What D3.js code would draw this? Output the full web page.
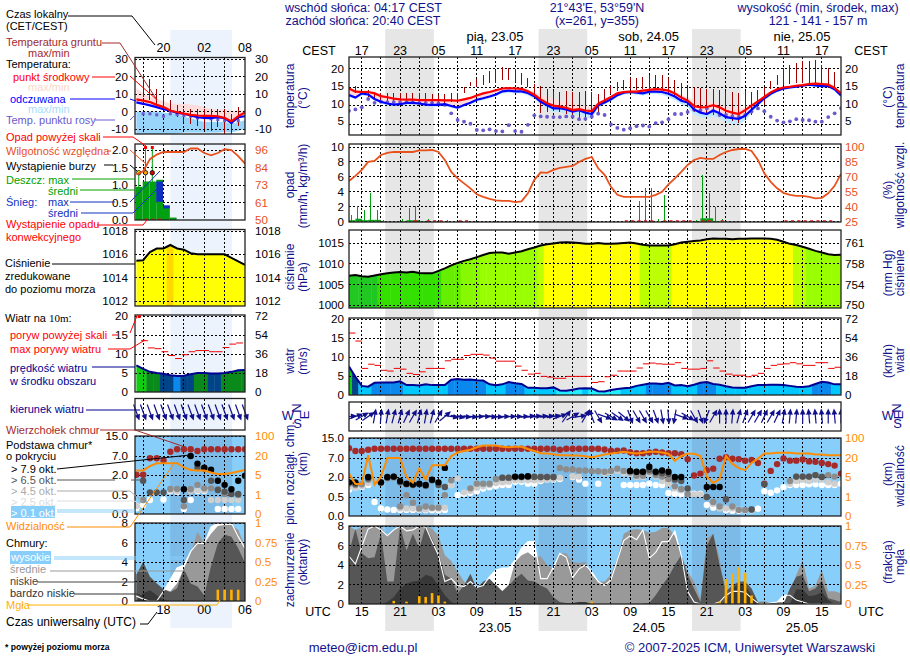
<!DOCTYPE html>
<html>
<head>
<meta charset="utf-8">
<title>meteogram</title>
<script src="https://cdnjs.cloudflare.com/ajax/libs/d3/7.8.5/d3.min.js"></script>
<style>
  body { margin: 0; background: #fff; }
  svg { display: block; }
  text { font-family: "Liberation Sans", Arial, sans-serif; font-size: 11.6px; }
</style>
</head>
<body>
<div id="chart"></div>
<script>
const na = null;

// hourly series, index 0 = 13 UTC 22.05, index 77 = 18 UTC 25.05
const tempMid = [14.4,13.5,13.4,13.4,13,12.2,11.9,11.5,11.3,11.2, 11.2,11.1,11.1,11.1,11.1,11,11,10.9,11.3,11.7, 12.4,13,13.4,13.9,14.4,14.5,14.4,14.3,13.6,12.6, 11.3,10.2,9.5,9.2,8.9,8.2,8.5,8.1,7.9,10, 11,12,13,13.4,13.5,13.5,13.8,14,14.2,14.1, 13.8,13,11.8,10.9,9.4,9,9.1,9.6,9,8, 7.5,7.1,8.2,9.5,10.7,12,13.3,14.2,14.7,14.9, 15.2,15.4,15.7,15.8,15.7,15.5,14.6,13];
const tempHi = [14.8,14,13.9,13.9,13.5,12.8,12.4,12,11.8,11.7, 11.6,11.5,11.5,11.5,11.5,11.4,11.4,11.3,11.6,12, 12.7,13.3,13.7,14.2,14.7,14.9,14.8,14.7,14.2,13.4, 12.5,12,11.5,11,10.5,10,9.8,9.4,9.1,10.6, 11.4,12.4,13.4,13.8,13.9,13.9,14.2,14.4,14.6,14.5, 14.2,13.5,12.6,11.9,11,10.6,10.4,10.5,10,9.2, 8.8,8.4,9,10,11.2,12.4,13.7,14.6,15,15.3, 15.6,15.8,16.1,16.2,16.1,15.9,15.1,13.5];
const chill = [12.5,11.8,13,12.7,11.4,10.6,10.1,9.8,9.9,10.3, 10.3,10.1,9.8,9.7,9.7,9.9,9.4,8.9,9.7,10.3, 11.2,11.6,12.1,12.7,13.6,13.8,13.6,13.6,13.1,12.2, 10.6,9.6,8.7,8.8,8.4,7.8,8.2,7.5,7.1,9.6, 10.4,11.3,12.5,13.2,13.4,13.2,13,13.5,13.5,13.4, 12.9,12.1,10.9,10.4,8.4,7.5,7.1,8.1,7.3,6.2, 5.9,5.7,6.6,8.3,10,11.6,12.9,13.8,14.4,14.7, 14.9,15.2,15.5,15.3,15.1,15.1,14.2,12.4];
const chillLo = [12,11.3,12.4,12.1,10.9,10.1,9.6,9.3,9.4,9.8, 9.8,9.6,9.3,9.2,9.2,9.4,8.9,8.4,9.2,9.8, 10.7,11.1,11.6,12.2,13,13.2,13,13,12.4,11.4, 9.9,8.7,7.7,7.7,7.2,6.6,6.8,6.1,5.7,8.8, 9.8,10.8,12,12.7,12.9,12.6,12.4,12.8,12.8,12.6, 12,11.1,9.9,9,7,6.2,5.8,6.6,5.8,4.8, 4.4,4.1,5.2,7.4,9.3,11,12.4,13.3,14,14.3, 14.6,14.9,15.1,14.8,14.7,14.7,13.6,11.8];
const dewPoint = [8,8.4,9,11.4,10.3,10.6,10.5,10.5,10.5,10.5, 10.4,10.3,10.3,10.3,10.2,9.7,7.3,5.4,4.9,4.3, 2.5,2.4,2.7,2.2,2.1,3.9,2.2,2,4,6.7, 6.4,6.3,6.2,6.2,6.4,6.3,5.6,5.7,6.3,7.2, 6.8,4.1,3.1,2.6,3,3.6,3.8,3.5,4.5,4.7, 5.6,7.1,7.1,7.7,8.3,8.1,8.7,8,6.8,6.8, 6.5,6.3,6.8,7.8,8.7,7.9,6.3,5.2,4.7,5, 5.6,5.4,5.3,4.9,4.9,6.2,7.3,8.8];
const groundMax = [na,15,13.8,14,13.5,13,13,13,13,13, 13,13,13,12.8,12.5,12.8,13,13.2,14.7,16.2, 17.2,18.3,19.3,19.8,20.5,20.4,20,18.8,17.3,15.6, 15,14.3,13.8,13.3,13.8,13.3,13.5,13.8,13.3,12.8, 14.2,15,16.2,16.8,17.3,17.5,17.6,18.3,18.3,18.2, 17.3,16.8,15.9,14.7,14.7,14.5,14.2,14.2,14,13.8, 13.5,13.2,13.8,13.3,14,14.7,16.7,18.2,20.2,21.1, 21.6,22.3,22.4,22.6,21.1,20.2,19.2,na];
const groundMin = [na,13,12.5,11.9,11.1,10.6,10.3,10.2,10.2,10.3, 10.3,10.6,10.3,9.9,10.2,10.2,10.6,11.1,13,15, 14.7,15.4,15.9,16,16.8,16.8,16.3,15.4,14.7,12.5, 7.5,7.7,8,7.7,7.2,6.3,5.5,5,6.3,7.6, 10.2,12.7,13.8,14,14.2,14,14.2,14.4,14.2,14, 13,12.1,10.7,9.2,7.8,7.3,7.1,6.8,6.3,5.8, 5.2,4.6,5.4,6.8,8.3,9.7,14.4,15.4,15.4,15.7, 16,16,15.7,15.4,14.9,14.5,14.3,na];
const rainMax = [.9,2.1,1.6,3.8,1.5,.2,0,0,.4,1.8, 2.1,0,.3,0,0,.2,0,0,0,0, 0,0,0,0,0,0,0,0,0,0, 0,0,0,0,0,0,0,0,0,0, 0,0,0,0,0,2.8,4.5,4.5,.4,3.6, 0,0,0,0,.2,6.3,3.8,2,.4,0, 0,0,0,0,0,0,0,0,0,0, 0,0,0,0,0,0,0,0];
const rainMean = [.2,.4,.2,.25,.25,.05,0,0,.05,.2, .2,.05,0,0,0,0,0,0,0,0, 0,0,0,0,0,0,0,0,0,0, 0,0,0,0,0,0,0,0,0,0, 0,0,0,0,0,0,0,0,0,0, 0,0,0,0,.05,.45,.45,.1,.05,0, 0,0,0,0,0,0,0,0,0,0, 0,0,0,0,0,0,0,0];
const convectiveHours = [10,12,13,14,17,18,43,44,45,46,47,49,50,51,52,53,55,56,58,68,69,70,71,72,73,74,75];
const humidity = [65.9,71,77,85,86,92,94,95,95,95, 95,96.7,96.7,97,95,87,75,68.5,63.5,58.5, 52.5,50,48,46.5,46,46,44.7,45.4,53.5,67, 74.5,74,77,79,80,81,85,88,90,78.6, 72,60,52,50,50,50,50,50,52,55, 62.5,68.5,75,82,87,89,88,88,92,95, 97,98,98,96,87,73.5,65,58.5,54,52, 51,51,50,48.5,49,53.5,61,73];
const pressure = [1007.1,1007.3,1007,1006.9,1007.2,1007.5,1007.7,1007.9,1008,1007.9, 1008.1,1007.8,1007.7,1007.7,1008.3,1008.9,1009.6,1010.2,1010.7,1011.1, 1011.6,1012.1,1012.6,1012.7,1012.7,1012.4,1012.7,1013,1013.5,1013.9, 1014.4,1014.7,1014.9,1015.1,1015.2,1015.1,1015,1014.8,1014.8,1015, 1014.8,1014.8,1014.9,1015,1015.1,1014.9,1014.6,1014.4,1014.4,1014.4, 1014.4,1014.7,1015.1,1015.3,1015.5,1015.6,1015.9,1016.1,1016,1016, 1015.9,1016,1016,1016.1,1016.1,1016.1,1016,1015.8,1015.3,1014.8, 1014.5,1014.1,1013.6,1013.1,1012.7,1012.3,1012.1,1012.2];
const gust = [16.3,14.2,7,8.1,7.8,6.5,6.3,7,6.8,5.7, 5.4,6.1,7,7,7,9,9.4,9.4,10.4,10.7, 10.7,10.5,9.7,8.9,8.9,8.9,7.6,6.5,5.5,5.7, 4.9,4.7,4.4,4.4,4.9,4.9,4.9,4.9,3.3,3.5, 4.8,5.2,6.3,6.3,6.3,7.1,8.2,8.4,8.2,8.1, 8.1,8.5,7,6.8,6.8,7,9,7.1,6.3,5.5, 5.2,5.2,4.8,5.2,5.7,7,7.8,8.1,8.2,8.5, 8.2,7.8,7.8,8.5,8.5,7,7.3,na];
const windSpeed = [7.5,4.8,2.4,2.2,3.2,3.3,3.3,3.3,3.6,2.6, 2.6,2.5,2.8,2.6,2.6,2.6,4,4.2,4,4.1, 3.9,3.8,2.8,2.6,2.8,3.4,3.1,2.9,1.9,1.9, 1.8,1.8,2,1.2,1.1,1.4,1.7,1.8,1.7,1, .9,1.3,1.6,1.8,1.9,2.4,2.7,3,3,2.9, 3.2,2.5,2.6,2.3,2.7,3.2,3.4,2.9,2.7,2.3, 2,1.9,1.9,2.3,2.6,2.6,2.7,2.7,2.6,2.4, 2.2,2.1,2.3,2.9,3.5,3.3,2.8,2.8];
const windFrom = [265,250,240,235,190,185,190,195,195,205, 210,195,190,195,210,230,280,280,275,275, 270,270,275,275,270,270,270,270,265,265, 265,265,260,250,215,240,260,210,160,330, 290,300,305,310,340,330,330,330,340,350, 355,10,290,300,330,340,20,210,180,180, 185,195,200,210,210,205,210,205,190,185, 185,180,175,175,175,180,175,180];
const cloudTop = [10.9,9.8,9.8,10.3,10.7,10.7,10.7,10.7,10.7,10.7, 10.7,10.7,10.7,10.7,10.7,10.7,10.7,10.7,10.7,10.7, 10.7,10.7,10.7,10.7,10.7,10.7,10.7,10.7,10.7,10.7, 10.7,10.7,10.7,10.3,10.7,10.7,10.7,10.7,10.7,10.7, 10.4,9.9,9.9,10,9.3,8.9,8.9,9.2,9.5,9.2, 8.9,8.9,8.5,6.7,2.4,2.9,3.8,4.2,6.8,7.3, 6.8,6.7,6.3,6.5,5.7,1.5,3.6,5.4,6.9,6.3, 6.3,6.6,6.1,6,5.7,5.4,5,2.9];
const baseBlack = [1.6,1.6,na,2,na,1.6,2,2.1,1.7,1.5, 1.45,1.5,1.4,1.8,1.6,4.4,na,na,na,na, na,na,na,na,na,na,2.1,2.1,2.2,na, na,na,na,na,na,na,na,na,na,na, na,na,na,na,3.6,3.4,3.4,4.7,3.4,3.7, 3.4,2,2,na,na,na,1.25,1.25,1.25,na, na,na,na,na,na,na,na,na,na,na, na,na,na,na,na,na,na,na];
const baseDark = [1.6,1.5,na,1.9,na,1.6,1.95,2.05,1.6,1.45, 1.4,1.45,1.35,1.75,1.4,1.25,na,na,na,na, na,na,na,na,1.95,1.95,2,2,2.1,2.05, 2,2,2,na,na,na,na,na,na,na, na,na,na,na,3.5,3.3,3.3,3.9,3.2,3, 2.8,1.8,1.7,1.14,na,na,.5,na,na,.44, na,na,na,.17,na,1.45,na,na,na,na, 2.1,2.1,2.1,2.5,2,na,na,na];
const baseMedium = [1.5,1.4,1.45,1.8,na,1.55,1.9,1.95,.25,.63, .35,.2,.25,.22,.22,.63,1.75,na,na,1.15, 1.5,1.5,1.5,1.85,1.95,1.95,2,2,2,2, 2,2,2,4.4,4,4,3.7,3.7,3.5,3.5, 3.4,3.6,4.2,3.6,3.2,2.3,2.3,3.4,2.5,2.1, 1.85,1.3,1.1,.7,na,na,.5,.37,.25,.43, .25,.16,.16,.17,na,na,na,na,na,1.7, 2.1,2.1,2.1,2.5,2.1,2.5,2.1,na];
const baseLight = [1.25,1.2,1.3,1.55,na,na,na,na,.2,.2, .2,.17,.17,.2,.2,.22,1.4,1.9,.85,.95, 1.2,1.3,1.4,1.55,1.6,1.65,1.75,1.75,1.75,1.75, 1.8,1.8,1.85,1.95,na,2.2,2.1,na,na,na, 3,3.3,3.6,3,2.8,2,2,2.8,2.1,1.7, 1.5,1.15,1,.8,.7,.7,na,.32,.2,.2, .2,.17,.15,.15,na,na,na,na,na,1.5, 1.7,1.8,1.7,1.8,1.8,1.6,1.5,na];
const baseWhite = [1.05,1.2,1.25,1.4,.37,.2,.17,.16,.16,.16, .16,.16,.15,.15,.15,.16,1.4,.65,.75,.82, .93,1.14,1.24,1.33,1.4,1.4,1.64,1.64,1.5,1.5, 1.7,1.8,1.8,1.85,na,2,1.8,1.5,na,1.5, na,na,na,1.4,1.4,1.4,1.4,1.5,1.4,1.4, .8,.75,.7,.7,.75,.75,.29,.22,.22,.15, .14,.14,.15,.15,.19,.93,.82,1,1.24,1.4, 1.4,1.4,1.45,1.45,1.4,1.4,1.4,1.5];
const visibility = [7.8,3.6,3.6,31,3.5,5,20,20,20,5, 3.9,11.7,4.5,14.3,14.3,14.3,28,42,48,53, 63,70,70,70,65,63,65,65,56,48, 39,38,35,31,31,30,30,27,23,28, 34,38,41,45,41,38,41,45,45,42, 37,17.7,28,37,37,28,5.5,3.8,4.6,28, 15.3,12,10.4,16.1,19.5,38,38,41,41,41, 38,38,38,34,34,31,31,31];
const cloudHigh = [4.9,4.1,5.9,7.7,8,7.6,7,7.6,8,7.5, 7.6,8,7.9,6.4,5,2.3,2.6,1.9,1.8,2.3, 1.7,1.9,2.8,3.5,3.7,3.7,4.5,5.7,6.4,6.4, 2.6,2.6,3.8,5.2,4.8,2.7,3.6,4,3.3,2.3, 1.9,2.5,4.5,6.5,7,6.6,7.6,4.7,5.3,6.4, 6.4,7.5,5,1.3,.2,0,0,0,.2,.9, 1.3,1.3,1.2,.6,.1,0,.1,.2,.9,.9, .4,.2,0,0,0,0,0,0];
const cloudMid = [8,7.6,7.9,8,8,7.9,7,7.6,8,7.9, 7.9,8,8,7.7,7,5,4.4,3.3,2.3,1.6, 1.6,1.6,2.3,2,1.3,2,4.3,5,5.3,4.8, 4.9,4,3.5,5.2,5.2,4.3,4.2,4.3,3,2.3, 2.3,3,4.7,7.2,7.6,7.7,7.6,7.3,7.4,7.8, 7.8,7,5,3.3,2.3,.6,6.7,7.2,4.7,.6, .9,1.3,2.3,1.3,.2,.3,.1,.2,.2,.9, 3,4.5,1.6,1.9,3.5,1.3,1.3,1.1];
const cloudLow = [5.3,7.7,5.2,4.7,4.8,7.2,2.3,2.3,8,5.5, 7.2,5.7,8,6.7,5.2,3,2.6,1.1,1.9,3.1, 1.6,2.3,2.6,1.9,1.3,1.9,2.6,3.1,2.4,2.3, 1.9,1.6,.7,.2,.1,0,0,0,0,0, 0,0,0,0,0,0,0,.1,.9,1.9, 2.8,4,5,3,1.6,.2,6,7.2,4,1.3, 1.9,2.3,2.3,1.6,.2,.1,.1,0,0,1.6, 2.8,3,1.3,1.6,2.4,.6,.4,.2];
const cloudVeryLow = [0,0,0,0,0,0,.2,.7,1.6,2.1, 2.3,2.4,3,2.8,1.9,.9,.2,0,0,0, 0,0,0,0,0,0,0,0,0,0, 0,0,0,0,0,.1,.2,.2,0,0, 0,0,0,0,0,0,0,0,0,0, 0,0,0,0,0,0,0,0,0,.2, 1.6,2.1,1.9,.9,.1,0,0,0,0,0, 1.5,1.5,.8,.9,1.2,.4,0,0];
const fog = [0,0,0,0,0,0,0,.04,0,.03, 0,.1,.09,.14,.11,.03,0,0,0,0, 0,0,0,0,0,0,0,0,0,0, 0,0,0,0,0,0,0,0,.03,0, 0,0,0,0,0,0,0,0,0,0, 0,0,0,0,0,0,0,0,.03,.32, .39,.47,.4,.11,0,0,0,0,0,0, 0,0,0,0,0,0,0,0];

// legend sample series, index 0 = 14 UTC, index 16 = 06 UTC next day
const legTempMid = [6.9,6.2,5.4,3.8,2.5,.6,-.4,-1.2,-1.9,-2.3,-2.5,-2.5,-2.7,-3.7,-5.6,-2.7,-.6];
const legTempHi = [13.5,10.5,8.5,7,6,4.5,4.5,4.5,4,3.5,2.7,1.5,1,1.5,.5,.5,1];
const legChill = [5.2,4.4,3.5,2.5,1.3,.4,-.8,-1.3,-2.3,-3.3,-3.7,-3.8,-3.3,-3.8,-6.5,-3.3,-2.7];
const legChillHi = [0,0,0,0,-.5,-1,-1.5,-3,-4,-5,-6,-6,-6,-6,-7,-6,-5];
const legChillLo = [-13,-13,-13,-13,-13,-13,-12.5,-12,-12,-12,-12,-12,-12,-11.5,-12,-11,-10];
const legDew = [na,-1.3,-1.3,-1.9,-2.7,-1.3,-1.7,-2.3,-2.7,-3.7,-3.3,-4.2,-4.6,-5.2,-6.2,-5.2,na];
const legGroundMax = [na,20.8,18.8,13,10.2,6.3,3.5,1.5,1.5,1.5,1.5,1.5,1.5,1.5,-1.3,2.5,na];
const legGroundMin = [na,8.3,6.3,4.4,1.5,-1.3,-3.3,-6.2,-7,-8,-10,-11,-9,-12.9,-12.9,-8,na];
const legRain = [.95,1.1,1.1,1.15,.4,.07,0,0,0,0,0,0,0,0,0,0,0];
const legRainMax = [1.35,2.05,2.05,0,0,0,0,0,0,0,0,0,0,0,0,0,0];
const legSnowHi = [0,0,0,1.1,.42,0,0,0,0,0,0,0,0,0,0,0,0];
const legSnowLo = [0,0,0,.52,.33,0,0,0,0,0,0,0,0,0,0,0,0];
const legAboveScale = [1,2];
const legStormColors = ["#ffe800","#ffa500","#e00000"];
const legConvective = [1,2,3];
const legHumidity = [80,82,90,93,94.7,94.7,94.7,94.7,97,97,94,92.5,94,96.5,96,92,87];
const legPressure = [1015.46,1015.5,1016.2,1016.5,1016.5,1016.8,1016.5,1016.4,1016.1,1016,1016,1016,1016,1016,1015.7,1015.4,1015.1];
const legWindSpeed = [7,6.1,5.3,5,4.8,4.4,4.2,4.3,4.7,5,5,4.9,4.9,5,5.3,5.7,5.8];
const legGust = [na,13.5,11.6,11.4,10.6,9.6,8.8,9.8,10.6,10.9,10.9,10.6,10.6,11.7,12.6,12.9,na];
const legWindFrom = [340,340,340,340,340,340,340,340,340,340,340,340,340,340,340,340,340];
const legCloudTop = [2.05,2.05,6.4,6.4,5.9,8.7,9.7,9.7,9.7,9,9.7,9.7,9.7,9.7,9.7,9.7,9.7];
const legBlack = [na,na,na,na,na,na,na,.93,7,5,3.9,3.4,1.57,1.26,.93,1.57,1.95];
const legDark = [na,1.57,.7,.7,.7,na,na,.37,na,3.9,3.7,1.57,.88,.75,.58,.58,na];
const legMedium = [na,.37,na,na,na,.95,.95,.2,.93,1.26,1,1,.93,.58,.58,.5,na];
const legLight = [.21,.37,na,na,na,.85,.8,na,.8,.85,.85,.37,.37,.37,.37,.37,na];
const legWhite = [.15,.24,.37,na,.38,.8,.75,.13,.37,.8,.8,na,.13,.13,.13,.13,na];
const legVisibility = [8.6,8.6,12,14.3,14.3,14.3,14.3,11,9,8.6,8.6,7,5.8,5.8,6.6,7.8,9];
const legHigh = [.5,.2,0,0,1,2.2,3.4,3.7,5.1,5.9,5.9,7.6,8,8,8,6.6,5.4];
const legMid = [2.7,4,2.5,1.8,1.2,1,1.8,3.3,4.9,7.1,5.9,6.9,7.7,7.8,7.8,7.3,5.6];
const legLow = [2.7,4,2.5,1.8,1.2,.9,1.3,3.3,1.8,1.5,.6,3.6,5.9,6.8,6.6,5.4,3.9];
const legVeryLow = [0,.8,1.1,.6,.1,0,0,0,0,0,0,0,0,0,0,0,0];
const legFog = [0,0,0,0,0,0,0,0,0,0,0,0,.145,.145,.145,.145,0];

// tick labels
const localHourLabels = ["17","23","05","11","17","23","05","11","17","23","05","11","17"];
const utcHourLabels = ["15","21","03","09","15","21","03","09","15","21","03","09","15"];
const dayTopLabels = ["pią, 23.05","sob, 24.05","nie, 25.05"];
const dayBottomLabels = ["23.05","24.05","25.05"];
const dayLabelHours = [22.85,46.9,70.9];
const nightSpans = [[5.67,13.28],[29.67,37.28],[53.67,61.28]];
const tempTicks = [5,10,15,20];
const rainTicks = [0,2,4,6,8,10];
const humidityTicks = [25,40,55,70,85,100];
const pressureTicks = [1000,1005,1010,1015];
const mmHgLabels = ["750","754","758","761"];
const windTicks = [0,5,10,15,20];
const kmhLabels = ["0","18","36","54","72"];
const heightTicks = [0,.5,2,7,15];
const heightLabels = ["0.0","0.5","2.0","7.0","15.0"];
const visLabels = ["0","1","5","20","100"];
const octaTicks = [0,2,4,6,8];
const fogLabels = ["0","0.25","0.5","0.75","1"];
const legTempTicks = [-10,0,10,20,30];
const legRainTicks = [0,.5,1,1.5,2];
const legRainLabels = ["0.0","0.5","1.0","1.5","2.0"];
const legHumLabels = ["50","61","73","84","96"];
const legPressTicks = [1012,1014,1016,1018];

const NAVY = "#10108c";
const SKY = "#87cefa";
const SKY_NIGHT = "rgba(60,70,130,0.14)";
const RH_COLOR = "#e8501c";
const VIS_COLOR = "#ff8c00";
const WIDTH = 910;
const HEIGHT = 660;

const svg = d3.select("#chart").append("svg").attr("width", WIDTH).attr("height", HEIGHT);

function label(g, str, x, y, opts = {}) {
  const t = g.append("text")
    .attr("x", x)
    .attr("y", y)
    .attr("fill", opts.fill || "#000")
    .attr("text-anchor", opts.anchor || "start")
    .text(str);
  if (opts.size) t.style("font-size", opts.size + "px");
  if (opts.weight) t.style("font-weight", opts.weight);
  if (opts.rotate) t.attr("transform", `rotate(${opts.rotate},${x},${y})`);
  return t;
}

// x helpers: scale index -> pixel
const xMainScale = d3.scaleLinear().domain([0, 77]).range([349, 841]);
const xLegScale = d3.scaleLinear().domain([13.8, 30]).range([135, 245]);
const xMain = (i) => xMainScale(i);
const xLeg = (j) => xLegScale(14 + j);
const mainGridX = d3.range(2, 77, 3);
const legGridX = [1, 4, 7, 10, 13];

// night bands sit under everything
svg.append("g").selectAll("rect").data(nightSpans).enter().append("rect")
  .attr("x", (d) => xMain(d[0]))
  .attr("width", (d) => xMain(d[1]) - xMain(d[0]))
  .attr("y", 29).attr("height", 602).attr("fill", "#e6e6e6");
svg.append("rect")
  .attr("x", xLeg(5)).attr("width", xLeg(14.1) - xLeg(5))
  .attr("y", 30).attr("height", 598).attr("fill", "#ecf3fd");

let clipCounter = 0;
function addPanel(box) {
  const id = "clip" + clipCounter++;
  svg.append("clipPath").attr("id", id).append("rect")
    .attr("x", box.xs(box.from)).attr("y", box.y0)
    .attr("width", box.xs(box.to) - box.xs(box.from)).attr("height", box.y1 - box.y0);
  const g = svg.append("g").attr("clip-path", `url(#${id})`);
  return { g, box };
}

function skyBackground(p) {
  const { box } = p;
  p.g.append("rect").attr("x", box.xs(box.from)).attr("y", box.y0)
    .attr("width", box.xs(box.to) - box.xs(box.from)).attr("height", box.y1 - box.y0)
    .attr("fill", SKY);
  p.g.selectAll(".night").data(box.night).enter().append("rect")
    .attr("x", (d) => box.xs(d[0]))
    .attr("width", (d) => box.xs(d[1]) - box.xs(d[0]))
    .attr("y", box.y0).attr("height", box.y1 - box.y0)
    .attr("fill", SKY_NIGHT);
}

function addGrid(p, gridY) {
  const { box } = p;
  const grid = p.g.append("g").attr("stroke", "#000").attr("stroke-width", 1)
    .attr("stroke-dasharray", "2,2").attr("shape-rendering", "crispEdges");
  grid.selectAll(".v").data(box.gridX).enter().append("line")
    .attr("x1", (d) => box.xs(d)).attr("x2", (d) => box.xs(d))
    .attr("y1", box.y0).attr("y2", box.y1);
  grid.selectAll(".h").data(gridY).enter().append("line")
    .attr("x1", box.xs(box.from)).attr("x2", box.xs(box.to))
    .attr("y1", (d) => d).attr("y2", (d) => d);
}

function addBorder(box) {
  svg.append("rect")
    .attr("x", box.xs(box.from)).attr("y", box.y0)
    .attr("width", box.xs(box.to) - box.xs(box.from)).attr("height", box.y1 - box.y0)
    .attr("fill", "none").attr("stroke", "#222").attr("stroke-width", 1.3);
}

function addTicks(vals, yFn, labels, x, anchor, fill) {
  vals.forEach((v, k) => {
    label(svg, labels ? labels[k] : v, x, yFn(v) + 4, { anchor, fill });
  });
}

function seriesLine(xs, y, values) {
  return d3.line().defined((d) => d != null).x((d, i) => xs(i)).y((d) => y(d))(values);
}

function bandArea(xs, y, hi, lo) {
  return d3.area().x((d, i) => xs(i)).y0((d, i) => y(lo[i])).y1((d) => y(d))(hi);
}

function dots(g, xs, y, values, r, fill) {
  g.append("g").selectAll("circle")
    .data(values.map((v, i) => ({ v, i })).filter((d) => d.v != null))
    .enter().append("circle")
    .attr("cx", (d) => xs(d.i)).attr("cy", (d) => y(d.v))
    .attr("r", r).attr("fill", fill);
}

// fill colours stepping by value, drawn as strips clipped to the area under the line
function strips(p, values, colorOf, y) {
  const { box } = p;
  const id = "clip" + clipCounter++;
  svg.append("clipPath").attr("id", id).append("path")
    .attr("d", d3.area().x((d, i) => box.xs(i)).y0(box.y1).y1((d) => y(d))(values));
  const step = box.xs(1) - box.xs(0);
  p.g.append("g").attr("clip-path", `url(#${id})`).selectAll("rect")
    .data(values).enter().append("rect")
    .attr("x", (d, i) => box.xs(i) - step / 2 - 0.2)
    .attr("width", step + 0.4)
    .attr("y", box.y0).attr("height", box.y1 - box.y0)
    .attr("fill", (d) => colorOf(d));
}

function drawTemp(box, gridY, y, d, isLegend) {
  const p = addPanel(box);
  p.g.append("path").attr("d", bandArea(box.xs, y, d.hi, d.chill)).attr("fill", "#ffdcdc");
  if (isLegend) {
    p.g.append("path").attr("d", bandArea(box.xs, y, d.chillHi, d.chillLo)).attr("fill", "#87cefa").attr("opacity", 0.85);
  } else {
    p.g.append("path").attr("d", bandArea(box.xs, y, d.chill, d.chillLo)).attr("fill", "#bfe8ff");
  }
  addGrid(p, gridY);
  p.g.append("g").selectAll("line")
    .data(d.gMax.map((v, i) => ({ v, i, lo: d.gMin[i] })).filter((e) => e.v != null))
    .enter().append("line")
    .attr("x1", (e) => box.xs(e.i)).attr("x2", (e) => box.xs(e.i))
    .attr("y1", (e) => y(e.v)).attr("y2", (e) => y(e.lo))
    .attr("stroke", "#a00000").attr("stroke-width", 1)
    .attr("shape-rendering", "crispEdges");
  if (isLegend) {
    p.g.append("g").selectAll("rect")
      .data(d.dew.map((v, i) => ({ v, i })).filter((e) => e.v != null))
      .enter().append("rect")
      .attr("x", (e) => box.xs(e.i) - 1.5).attr("y", (e) => y(e.v) - 1.5)
      .attr("width", 3).attr("height", 3).attr("fill", "#6a5acd");
  } else {
    dots(p.g, box.xs, y, d.dew, 1.9, "#6a5acd");
  }
  p.g.append("path").attr("d", seriesLine(box.xs, y, d.chill))
    .attr("fill", "none").attr("stroke", "#0000ff").attr("stroke-width", 2.2);
  p.g.append("path").attr("d", seriesLine(box.xs, y, d.mid))
    .attr("fill", "none").attr("stroke", "#ff0000").attr("stroke-width", 2.2);
  addBorder(box);
}

function drawPressure(box, gridY, y, values, colorOf) {
  const p = addPanel(box);
  strips(p, values, colorOf, y);
  addGrid(p, gridY);
  p.g.append("path").attr("d", seriesLine(box.xs, y, values))
    .attr("fill", "none").attr("stroke", "#000").attr("stroke-width", 2);
  addBorder(box);
}

function drawWind(box, gridY, y, speed, gustVals, gustShift, colorOf) {
  const p = addPanel(box);
  strips(p, speed, colorOf, y);
  addGrid(p, gridY);
  p.g.append("g").selectAll("line")
    .data(gustVals.map((v, i) => ({ v, i })).filter((e) => e.v != null))
    .enter().append("line")
    .attr("x1", (e) => box.xs(e.i + gustShift)).attr("x2", (e) => box.xs(e.i + gustShift + 1))
    .attr("y1", (e) => y(e.v)).attr("y2", (e) => y(e.v))
    .attr("stroke", "#f00000").attr("stroke-width", 1);
  p.g.append("path").attr("d", seriesLine(box.xs, y, speed))
    .attr("fill", "none").attr("stroke", "#000090").attr("stroke-width", 2);
  addBorder(box);
}

function drawWindDir(box, yc, dir, len, overflow) {
  const p = addPanel(box);
  addGrid(p, []);
  const g = overflow ? svg.append("g") : p.g;
  const arrow = g.append("g").selectAll("g").data(dir).enter().append("g")
    .attr("transform", (d, i) => `translate(${box.xs(i)},${yc}) rotate(${d + 180})`);
  arrow.append("line")
    .attr("y1", len / 2).attr("y2", -len / 2 + 3)
    .attr("stroke", "#10108c").attr("stroke-width", 1.2);
  arrow.append("path")
    .attr("d", `M0,${-len / 2 - 1} L-2.8,${-len / 2 + 5} L2.8,${-len / 2 + 5} Z`)
    .attr("fill", "#10108c");
  addBorder(box);
}

function drawHeights(box, gridY, y, vis, d) {
  const p = addPanel(box);
  skyBackground(p);
  addGrid(p, gridY);
  dots(p.g, box.xs, y.km, d.white, 3.2, "#ffffff");
  dots(p.g, box.xs, y.km, d.light, 3.2, "#cfcfcf");
  dots(p.g, box.xs, y.km, d.medium, 3.2, "#8c8c8c");
  dots(p.g, box.xs, y.km, d.top, 3.2, "#a52a2a");
  dots(p.g, box.xs, y.km, d.dark, 3.2, "#555555");
  dots(p.g, box.xs, y.km, d.black, 3.2, "#000000");
  p.g.append("path").attr("d", seriesLine(box.xs, y.vis, vis))
    .attr("fill", "none").attr("stroke", VIS_COLOR).attr("stroke-width", 2);
  addBorder(box);
}

function drawClouds(box, gridY, y, yFog, d, fogWidth) {
  const p = addPanel(box);
  skyBackground(p);
  const zero = d.high.map(() => 0);
  p.g.append("path").attr("d", bandArea(box.xs, y, d.high, zero)).attr("fill", "#ffffff");
  p.g.append("path").attr("d", bandArea(box.xs, y, d.mid, zero)).attr("fill", "#999999");
  p.g.append("path").attr("d", bandArea(box.xs, y, d.low, zero)).attr("fill", "#565656");
  p.g.append("path").attr("d", bandArea(box.xs, y, d.veryLow, zero)).attr("fill", "#383838");
  p.g.append("path").attr("d", seriesLine(box.xs, y, d.high))
    .attr("fill", "none").attr("stroke", "#fff").attr("stroke-width", 1.1);
  addGrid(p, gridY);
  p.g.append("g").selectAll("rect")
    .data(d.fog.map((v, i) => ({ v, i })).filter((e) => e.v > 0))
    .enter().append("rect")
    .attr("x", (e) => box.xs(e.i) - fogWidth / 2)
    .attr("width", fogWidth)
    .attr("y", (e) => yFog(e.v))
    .attr("height", (e) => box.y1 - yFog(e.v))
    .attr("fill", "#ffb000");
  addBorder(box);
}

/* ---------------------- main column ---------------------- */
const mainBox = (y0, y1) => ({ xs: xMain, from: 0, to: 77, y0, y1, gridX: mainGridX, night: nightSpans });
const mainLeft = 344;
const mainRight = 845;

const pressColor = d3.scaleThreshold()
  .domain([1007.4, 1008.8, 1010.5, 1012, 1014, 1014.65])
  .range(["#22c822", "#33e000", "#66ee00", "#88f800", "#99ff00", "#bbff00", "#ffff00"]);
const windColor = d3.scaleThreshold()
  .domain([1.8, 2.9, 4.3, 4.95, 6])
  .range(["#22eeff", "#00c8ff", "#0a88ee", "#004488", "#0a8a1a", "#11cc11"]);

// temperature
const yTemp = d3.scaleLinear().domain([5, 20]).range([121.3, 69]);
const yTempGrid = d3.scaleLinear().domain([5, 20]).range([124, 68.5]);
drawTemp(mainBox(57, 135), tempTicks.map(yTempGrid), yTemp,
  { hi: tempHi, mid: tempMid, chill, chillLo, dew: dewPoint, gMax: groundMax, gMin: groundMin }, false);
addTicks(tempTicks, yTemp, null, mainLeft, "end");
addTicks(tempTicks, yTemp, null, mainRight, "start");

// precipitation and humidity
const yRain = d3.scaleLinear().domain([0, 10]).range([221.7, 147]);
const yHum = d3.scaleLinear().domain([25, 100]).range([221.7, 147]);
{
  const box = mainBox(144, 222);
  const p = addPanel(box);
  addGrid(p, rainTicks.map(yRain));
  p.g.append("g").selectAll("rect")
    .data(rainMean.map((v, i) => ({ v, i })).filter((e) => e.v > 0))
    .enter().append("rect")
    .attr("x", (e) => xMain(e.i)).attr("width", xMain(1) - xMain(0))
    .attr("y", (e) => yRain(e.v)).attr("height", (e) => yRain(0) - yRain(e.v))
    .attr("fill", "#00a010");
  p.g.append("g").selectAll("line")
    .data(rainMax.map((v, i) => ({ v, i })).filter((e) => e.v > 0))
    .enter().append("line")
    .attr("x1", (e) => xMain(e.i + 0.4)).attr("x2", (e) => xMain(e.i + 0.4))
    .attr("y1", (e) => yRain(e.v)).attr("y2", yRain(0))
    .attr("stroke", "#00a010").attr("stroke-width", 1)
    .attr("shape-rendering", "crispEdges");
  p.g.append("g").selectAll("rect")
    .data(convectiveHours).enter().append("rect")
    .attr("x", (d) => xMain(d + 0.4) - 1.5).attr("width", 3)
    .attr("y", yRain(0) - 1.5).attr("height", 2.5).attr("fill", "#e02020");
  p.g.append("path").attr("d", seriesLine(xMain, yHum, humidity))
    .attr("fill", "none").attr("stroke", RH_COLOR).attr("stroke-width", 1.8);
  addBorder(box);
}
addTicks(rainTicks, yRain, null, mainLeft, "end");
addTicks(humidityTicks, yHum, null, mainRight, "start", RH_COLOR);

// pressure
const yPress = d3.scaleLinear().domain([1000, 1015]).range([305.3, 243]);
drawPressure(mainBox(230, 308), pressureTicks.map(yPress), yPress, pressure, pressColor);
addTicks(pressureTicks, yPress, null, mainLeft, "end");
addTicks(pressureTicks, yPress, mmHgLabels, mainRight, "start");

// wind
const yWind = d3.scaleLinear().domain([0, 20]).range([395, 319]);
drawWind(mainBox(318, 395), windTicks.map(yWind), yWind, windSpeed, gust, 0, windColor);
addTicks(windTicks, yWind, null, mainLeft, "end");
addTicks(windTicks, yWind, kmhLabels, mainRight, "start");

// wind direction
drawWindDir(mainBox(402, 431), 416.5, windFrom, 14, false);

// cloud base, top and visibility
const yKm = d3.scaleLinear().domain(heightTicks).range([516, 497, 477, 458, 438]);
const yVis = d3.scaleLinear().domain([0, 1, 5, 20, 100]).range([516, 497, 477, 458, 438]);
drawHeights(mainBox(438, 516), heightTicks.map(yKm), { km: yKm, vis: yVis }, visibility,
  { top: cloudTop, black: baseBlack, dark: baseDark, medium: baseMedium, light: baseLight, white: baseWhite });
addTicks(heightTicks, yKm, heightLabels, mainLeft, "end");
addTicks(heightTicks, yKm, visLabels, mainRight, "start", VIS_COLOR);

// cloud cover and fog
const yOcta = d3.scaleLinear().domain([0, 8]).range([604, 526]);
const yFogFrac = d3.scaleLinear().domain([0, 1]).range([604, 526]);
drawClouds(mainBox(526, 604), octaTicks.map(yOcta), yOcta, yFogFrac,
  { high: cloudHigh, mid: cloudMid, low: cloudLow, veryLow: cloudVeryLow, fog }, 2.6);
addTicks(octaTicks, yOcta, null, mainLeft, "end");
addTicks(octaTicks, yOcta, fogLabels, mainRight, "start", VIS_COLOR);

// hours, days and units around the main column
localHourLabels.forEach((t, k) => label(svg, t, xMain(2 + k * 6), 55, { anchor: "middle", size: 12.5 }));
utcHourLabels.forEach((t, k) => label(svg, t, xMain(2 + k * 6), 616, { anchor: "middle", size: 12.5 }));
dayTopLabels.forEach((t, k) => label(svg, t, xMain(dayLabelHours[k]), 41, { anchor: "middle", size: 13 }));
dayBottomLabels.forEach((t, k) => label(svg, t, xMain(dayLabelHours[k]), 632, { anchor: "middle", size: 13 }));
label(svg, "CEST", 319, 55, { anchor: "middle", size: 12.5 });
label(svg, "CEST", 871, 55, { anchor: "middle", size: 12.5 });
label(svg, "UTC", 318, 616, { anchor: "middle", size: 12.5 });
label(svg, "UTC", 871, 616, { anchor: "middle", size: 12.5 });

label(svg, "wschód słońca: 04:17 CEST", 363.5, 12, { anchor: "middle", fill: NAVY, size: 12.5 });
label(svg, "zachód słońca: 20:40 CEST", 363, 25, { anchor: "middle", fill: NAVY, size: 12.5 });
label(svg, "21°43'E, 53°59'N", 597, 12, { anchor: "middle", fill: NAVY, size: 12.5 });
label(svg, "(x=261, y=355)", 597, 25, { anchor: "middle", fill: NAVY, size: 12.5 });
label(svg, "wysokość (min, środek, max)", 818, 12, { anchor: "middle", fill: NAVY, size: 12.5 });
label(svg, "121 - 141 - 157 m", 818, 25, { anchor: "middle", fill: NAVY, size: 12.5 });

// rotated panel titles: [text, baseline x, centre y]
const axisTitles = [
  ["temperatura", 294, 96], ["(°C)", 307, 98], ["(°C)", 892, 97], ["temperatura", 904, 96],
  ["opad", 294, 185], ["(mm/h, kg/m³/h)", 307, 186], ["(%)", 892, 190], ["wilgotność wzgl.", 904, 185],
  ["ciśnienie", 294, 267], ["(hPa)", 307, 277], ["(mm Hg)", 892, 273], ["ciśnienie", 904, 273],
  ["wiatr", 294, 361], ["(m/s)", 307, 361], ["(km/h)", 892, 361], ["wiatr", 904, 360],
  ["pion. rozciągł. chm.", 294, 473], ["(km)", 307, 464], ["(km)", 892, 474], ["widzialność", 904, 476],
  ["zachmurzenie", 294, 570], ["(oktanty)", 307, 562], ["(frakcja)", 892, 562], ["mgła", 904, 562],
];
axisTitles.forEach(([t, x, cy]) => {
  label(svg, t, x, cy, { anchor: "middle", fill: NAVY, size: 12, rotate: -90 });
});

// compass letters next to the wind direction strip
[0, 600].forEach((dx) => {
  label(svg, "W", 288 + dx, 420, { fill: NAVY, size: 13, anchor: "middle" });
  label(svg, "S", 297.5 + dx, 428, { fill: NAVY, size: 13, anchor: "middle" });
  label(svg, "N", 301 + dx, 408, { fill: NAVY, size: 13, anchor: "middle", rotate: -90 });
  label(svg, "E", 309 + dx - (dx ? 6 : 0), 415, { fill: NAVY, size: 13, anchor: "middle", rotate: -90 });
});

label(svg, "meteo@icm.edu.pl", 363, 652, { anchor: "middle", fill: NAVY, size: 13 });
label(svg, "© 2007-2025 ICM, Uniwersytet Warszawski", 750, 652, { anchor: "middle", fill: NAVY, size: 13 });

/* ---------------------- legend column ---------------------- */
const legBox = (y0, y1) => ({ xs: xLeg, from: -0.2, to: 16, y0, y1, gridX: legGridX, night: [[5, 14.1]] });
const legLeft = 128;
const legRight = 255;

const yLegTemp = d3.scaleLinear().domain([-10, 30]).range([129, 59]);
drawTemp(legBox(57.5, 134), legTempTicks.map(yLegTemp), yLegTemp,
  { hi: legTempHi, mid: legTempMid, chill: legChill, chillHi: legChillHi, chillLo: legChillLo, dew: legDew, gMax: legGroundMax, gMin: legGroundMin }, true);
addTicks(legTempTicks, yLegTemp, null, legLeft, "end");
addTicks(legTempTicks, yLegTemp, null, legRight, "start");

const yLegRain = d3.scaleLinear().domain([0, 2]).range([220, 150]);
const yLegHum = d3.scaleLinear().domain([50, 96]).range([220, 150]);
{
  const box = legBox(144, 220);
  const p = addPanel(box);
  addGrid(p, legRainTicks.map(yLegRain));
  const step = xLeg(1) - xLeg(0);
  p.g.append("g").selectAll("rect")
    .data(legRain.map((v, i) => ({ v, i })).filter((e) => e.v > 0))
    .enter().append("rect")
    .attr("x", (e) => xLeg(e.i - 0.07)).attr("width", step)
    .attr("y", (e) => yLegRain(e.v)).attr("height", (e) => yLegRain(0) - yLegRain(e.v))
    .attr("fill", "#00a010");
  p.g.append("g").selectAll("rect")
    .data(legSnowHi.map((v, i) => ({ v, i, lo: legSnowLo[i] })).filter((e) => e.v > 0))
    .enter().append("rect")
    .attr("x", (e) => xLeg(e.i - 0.07)).attr("width", step)
    .attr("y", (e) => yLegRain(e.v)).attr("height", (e) => yLegRain(e.lo) - yLegRain(e.v))
    .attr("fill", "#1030c0");
  p.g.append("g").selectAll("line")
    .data(legRainMax.map((v, i) => ({ v, i })).filter((e) => e.v > 0))
    .enter().append("line")
    .attr("x1", (e) => xLeg(e.i + 0.35)).attr("x2", (e) => xLeg(e.i + 0.35))
    .attr("y1", (e) => yLegRain(e.v)).attr("y2", yLegRain(0))
    .attr("stroke", "#00a010").attr("stroke-width", 1);
  p.g.append("g").selectAll("rect")
    .data(legConvective).enter().append("rect")
    .attr("x", (d) => xLeg(d + 0.2)).attr("width", 3)
    .attr("y", yLegRain(0) - 1.5).attr("height", 2).attr("fill", "#e02020");
  p.g.append("g").selectAll("rect")
    .data(legAboveScale).enter().append("rect")
    .attr("x", (d) => xLeg(d + 0.35) - 1.5).attr("width", 3)
    .attr("y", 146).attr("height", 3).attr("fill", "#f00000");
  p.g.append("g").selectAll("circle")
    .data(legStormColors).enter().append("circle")
    .attr("cx", (d, i) => xLeg(i + 0.35)).attr("cy", yLegRain(1.35))
    .attr("r", 2.2).attr("fill", (d) => d).attr("stroke", "#000").attr("stroke-width", 0.8);
  p.g.append("path").attr("d", seriesLine(xLeg, yLegHum, legHumidity))
    .attr("fill", "none").attr("stroke", RH_COLOR).attr("stroke-width", 1.8);
  addBorder(box);
}
addTicks(legRainTicks, yLegRain, legRainLabels, legLeft, "end");
addTicks(legRainTicks, yLegRain, legHumLabels, legRight, "start", RH_COLOR);

const yLegPress = d3.scaleLinear().domain([1012, 1018]).range([301, 231]);
const legPressColor = d3.scaleThreshold().domain([1016.7]).range(["#ffff00", "#ffd800"]);
drawPressure(legBox(229.5, 306), legPressTicks.map(yLegPress), yLegPress, legPressure, legPressColor);
addTicks(legPressTicks, yLegPress, null, legLeft, "end");
addTicks(legPressTicks, yLegPress, null, legRight, "start");

const yLegWind = d3.scaleLinear().domain([0, 20]).range([392, 316]);
drawWind(legBox(315, 392), windTicks.map(yLegWind), yLegWind, legWindSpeed, legGust, -0.3, windColor);
svg.append("rect").attr("x", xLeg(0.2)).attr("y", 315).attr("width", 3).attr("height", 3).attr("fill", "#f00000");
addTicks(windTicks, yLegWind, null, legLeft, "end");
addTicks(windTicks, yLegWind, kmhLabels, legRight, "start");

drawWindDir(legBox(398.5, 430), 412, legWindFrom, 16, true);

const yLegKm = d3.scaleLinear().domain(heightTicks).range([514, 495, 475, 456, 436]);
const yLegVis = d3.scaleLinear().domain([0, 1, 5, 20, 100]).range([514, 495, 475, 456, 436]);
drawHeights(legBox(436, 514), heightTicks.map(yLegKm), { km: yLegKm, vis: yLegVis }, legVisibility,
  { top: legCloudTop, black: legBlack, dark: legDark, medium: legMedium, light: legLight, white: legWhite });
addTicks(heightTicks, yLegKm, heightLabels, legLeft, "end");
addTicks(heightTicks, yLegKm, visLabels, legRight, "start", VIS_COLOR);

const yLegOcta = d3.scaleLinear().domain([0, 8]).range([601, 523]);
const yLegFog = d3.scaleLinear().domain([0, 1]).range([601, 523]);
drawClouds(legBox(523, 601), octaTicks.map(yLegOcta), yLegOcta, yLegFog,
  { high: legHigh, mid: legMid, low: legLow, veryLow: legVeryLow, fog: legFog }, 2.6);
addTicks(octaTicks, yLegOcta, null, legLeft, "end");
addTicks(octaTicks, yLegOcta, fogLabels, legRight, "start", VIS_COLOR);

// hour labels over and under the legend column
["20", "02", "08"].forEach((t, k) => label(svg, t, xLeg(4 + k * 6), 52, { anchor: "middle", size: 12.5 }));
["18", "00", "06"].forEach((t, k) => label(svg, t, xLeg(4 + k * 6), 614, { anchor: "middle", size: 12.5 }));

/* leader lines and captions of the legend */
const BROWN = "#a52a2a";
const leaderLines = [
  ["#000", [[68,16],[132,16],[155,45]]],
  [BROWN, [[102,43],[120,43],[157,100]]],
  ["#f00", [[92,77],[115,77]]],
  ["#f00", [[130,76],[157,100]]],
  ["#00f", [[70,99],[115,99]]],
  ["#00f", [[130,99],[136,101]]],
  ["#6a5acd", [[95,120],[115,120]]],
  ["#6a5acd", [[130,120],[136,114]]],
  ["#f00", [[103,137],[133,137],[146,146]]],
  [RH_COLOR, [[107,151],[111,151]]],
  [RH_COLOR, [[130,150],[146,164]]],
  ["#000", [[104,165],[113,165]]],
  ["#000", [[130,165],[137,171]]],
  ["#00a000", [[72,179],[135,179]]],
  ["#00a000", [[80,190],[135,190]]],
  ["#1030c0", [[70,202],[115,202]]],
  ["#1030c0", [[130,202],[160,171]]],
  ["#1030c0", [[81,213],[133,213],[160,186]]],
  ["#f00", [[97,225],[143,225],[147,220]]],
  ["#000", [[52,264],[135,264]]],
  ["#f00", [[112,335],[118,335]]],
  ["#f00", [[130,333],[137,316]]],
  ["#f00", [[108,349],[130,349],[145,340]]],
  ["#000090", [[92,367],[135,367]]],
  ["#000090", [[86,410],[140,410]]],
  [BROWN, [[100,430],[135,430],[185,447]]],
  ["#000", [[57,469],[190,455]]],
  ["#555", [[57,480],[115,480]]],
  ["#555", [[131,480],[143,480]]],
  ["#aaa", [[57,491],[130,491],[143,502]]],
  ["#ddd", [[57,501],[135,501],[140,505]]],
  [SKY, [[57,510],[135,510]]],
  [SKY, [[57,512],[135,512]]],
  [VIS_COLOR, [[67,527],[130,527],[173,465]]],
  [SKY, [[54,557],[185,557]]],
  [SKY, [[54,559],[185,559]]],
  ["#999", [[50,571],[195,571]]],
  ["#444", [[37,582],[135,582]]],
  ["#333", [[74,594],[137,594],[150,600]]],
  ["#ffb000", [[27,605],[217,605],[220,600]]],
  ["#000", [[140,624],[148,624],[157,612]]],
];
leaderLines.forEach(([color, pts]) => {
  svg.append("path").attr("d", d3.line()(pts))
    .attr("fill", "none").attr("stroke", color).attr("stroke-width", 1);
});

svg.append("rect").attr("x", 11).attr("y", 506).attr("width", 44).attr("height", 12).attr("fill", SKY);
svg.append("rect").attr("x", 10).attr("y", 551).attr("width", 41).attr("height", 13).attr("fill", SKY);

const captions = [
  ["Czas lokalny", 6, 18, "#000"],
  ["(CET/CEST)", 6, 30, "#000"],
  ["Temperatura gruntu", 6, 46, BROWN],
  ["max/min", 28, 57, BROWN],
  ["Temperatura:", 6, 68, "#000"],
  ["punkt środkowy", 13, 81, "#f00"],
  ["max/min", 28, 91, "#fcd8c8"],
  ["odczuwana", 10, 103, "#00f"],
  ["max/min", 28, 113, "#a8dcfa"],
  ["Temp. punktu rosy", 6, 124, "#6a5acd"],
  ["Opad powyżej skali", 6, 141, "#f00"],
  ["Wilgotność względna", 6, 155, RH_COLOR],
  ["Wystąpienie burzy", 6, 170, "#000"],
  ["Deszcz: max", 6, 184, "#00a000"],
  ["średni", 48, 195, "#00a000"],
  ["Śnieg:", 6, 206, "#1030c0"],
  ["max", 48, 206, "#1030c0"],
  ["średni", 48, 217, "#1030c0"],
  ["Wystąpienie opadu", 6, 228, "#f00"],
  ["konwekcyjnego", 6, 241, "#f00"],
  ["Ciśnienie", 5, 267, "#000"],
  ["zredukowane", 5, 280, "#000"],
  ["do poziomu morza", 5, 293, "#000"],
  ["poryw powyżej skali", 10, 339, "#f00"],
  ["max porywy wiatru", 10, 353, "#f00"],
  ["prędkość wiatru", 10, 372, "#000090"],
  ["w środku obszaru", 10, 385, "#000090"],
  ["kierunek wiatru", 10, 413, "#000090"],
  ["Wierzchołek chmur", 6, 434, BROWN],
  ["Podstawa chmur*", 6, 449, "#000"],
  ["o pokryciu", 6, 460, "#000"],
  ["> 7.9 okt.", 11, 473, "#000"],
  ["> 6.5 okt.", 11, 484, "#555"],
  ["> 4.5 okt.", 11, 495, "#aaa"],
  ["> 2.5 okt.", 11, 506, "#ddd"],
  ["> 0.1 okt.", 11, 517, "#fff"],
  ["Widzialność", 6, 530, VIS_COLOR],
  ["Chmury:", 6, 547, "#000"],
  ["wysokie", 11, 561, "#fff"],
  ["średnie", 10, 573, "#999"],
  ["niskie", 10, 585, "#444"],
  ["bardzo niskie", 10, 597, "#333"],
  ["Mgła", 6, 609, "#ffb000"],
];
captions.forEach(([t, x, y, fill]) => label(svg, t, x, y, { fill, size: 11 }));
label(svg, "Czas uniwersalny (UTC)", 6, 626, { size: 12 });

const windTitle = label(svg, "Wiatr na ", 5, 322, { size: 11 });
windTitle.append("tspan").style("font-family", "'Liberation Serif', serif").style("font-size", "11px").text("10m");
windTitle.append("tspan").style("font-size", "11px").text(":");
label(svg, "* powyżej poziomu morza", 5, 650, { size: 8.6, weight: "bold" });
</script>
</body>
</html>
